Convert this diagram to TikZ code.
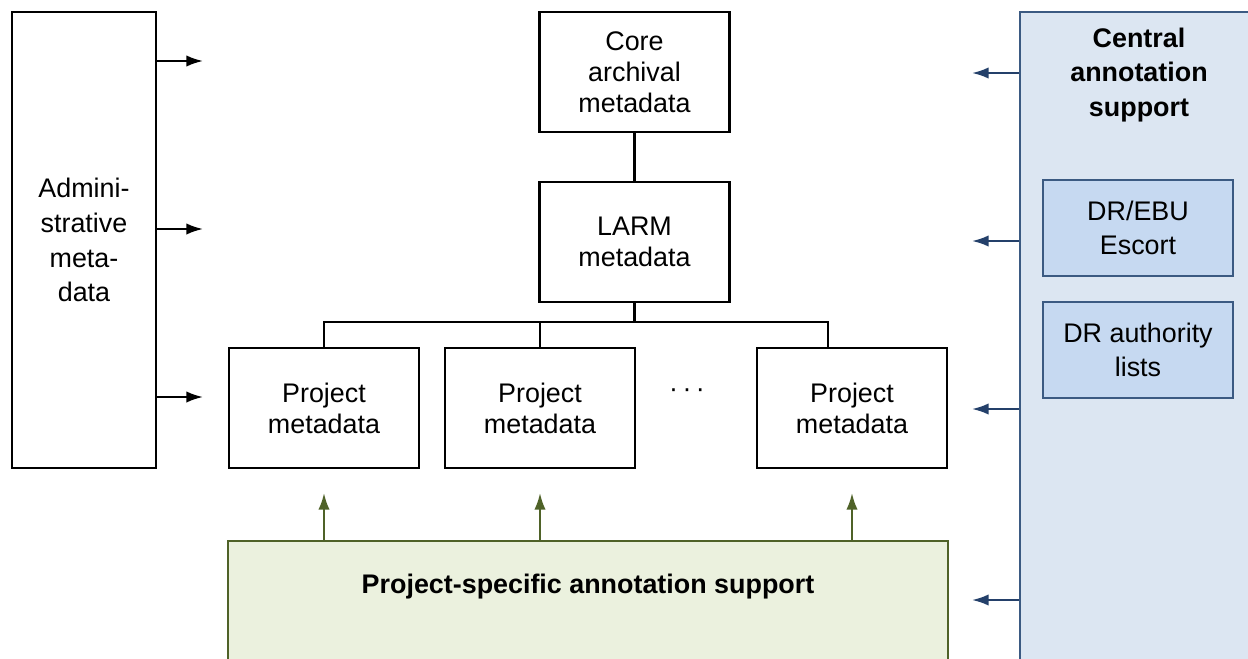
\documentclass[tikz,border=0pt]{standalone}
\usepackage{fontspec}
\setmainfont{Liberation Sans}
\usetikzlibrary{shapes,arrows,arrows.meta}
\usetikzlibrary{positioning}
\definecolor{centralfill}{HTML}{DCE6F2}
\definecolor{centraldraw}{HTML}{3B5A82}
\definecolor{escortfill}{HTML}{C6D9F1}
\definecolor{projfill}{HTML}{EBF1DE}
\definecolor{projdraw}{HTML}{4F6228}
\definecolor{arrowblue}{HTML}{24406A}
\tikzstyle{block} = [draw, rectangle, line width=1.2pt, align=center, minimum height=2.4cm, minimum width=3.8cm, font=\fontsize{15.3}{17.6}\selectfont]
\tikzstyle{support} = [draw=centraldraw, fill=escortfill, rectangle, line width=1.1pt, align=center, minimum height=1.92cm, minimum width=3.8cm, font=\fontsize{15.3}{19.5}\selectfont]
\tikzstyle{title} = [align=center, font=\fontsize{15.3}{19.8}\selectfont\bfseries]
\tikzstyle{io} = [coordinate]

\begin{document}
\begin{tikzpicture}[x=0.02cm, y=-0.02cm, >={Latex[length=9.5pt,width=6.5pt]}]
\useasboundingbox (0,0) rectangle (1248,659);
\clip (0,0) rectangle (1248,659);
% Background boxes
\node [draw=centraldraw, fill=centralfill, line width=1.2pt, minimum width=4.8cm, minimum height=13.76cm] (central) at (1140,356) {};
\node [draw=projdraw, fill=projfill, line width=1.2pt, minimum width=14.4cm, minimum height=3.18cm] (green) at (588,620.5) {};
\node [title] (centraltitle) at (1139,75) {Central\\annotation\\support};
\node [title] (greentitle) at (588,587) {Project-specific annotation support};

% Blocks
\node [block] (core) at (634.5,72) {Core\\archival\\metadata};
\node [block, below=0.96cm of core] (larm) {LARM\\metadata};
\node [block] (proj1) at (324,408) {Project\\metadata};
\node [block] (proj2) at (540,408) {Project\\metadata};
\node [block] (proj3) at (852,408) {Project\\metadata};
\node [font=\fontsize{15.3}{17.6}\selectfont] (dots) at (687,393) {·\,·\,·};
\node [block, minimum width=2.88cm, minimum height=9.12cm, font=\fontsize{15.3}{19.8}\selectfont] (admin) at (84,240) {Admini-\\strative\\meta-\\data};
\node [support] (escort) at (1138,228) {DR/EBU\\Escort};
\node [support, below=0.48cm of escort] (authority) {DR authority\\lists};

% Free ends
\node [io] (adm1) at (203,61) {};
\node [io] (adm2) at (203,229) {};
\node [io] (adm3) at (203,397) {};
\node [io] (cen1) at (972,73) {};
\node [io] (cen2) at (972,241) {};
\node [io] (cen3) at (972,409) {};
\node [io] (cen4) at (972,600) {};
\node [io] (bus) at (634.5,322) {};

% Hierarchy
\draw [line width=1.2pt] (core.south) -- (larm.north);
\draw [line width=1.2pt] (larm.south) -- (larm.south |- bus);
\draw [line width=1.2pt] (proj1.north) |- (bus) -| ([xshift=-0.48cm]proj3.north);
\draw [line width=1.2pt] (proj2.north) -- (proj2.north |- bus);

% Administrative metadata
\draw [->, line width=1.2pt] (admin.east |- adm1) -- (adm1);
\draw [->, line width=1.2pt] (admin.east |- adm2) -- (adm2);
\draw [->, line width=1.2pt] (admin.east |- adm3) -- (adm3);

% Central annotation support
\draw [->, line width=1.2pt, arrowblue] (central.west |- cen1) -- (cen1);
\draw [->, line width=1.2pt, arrowblue] (central.west |- cen2) -- (cen2);
\draw [->, line width=1.2pt, arrowblue] (central.west |- cen3) -- (cen3);
\draw [->, line width=1.2pt, arrowblue] (central.west |- cen4) -- (cen4);

% Project-specific annotation support
\draw [->, line width=1.2pt, projdraw] (green.north -| proj1) -- ([yshift=-0.48cm]proj1.south);
\draw [->, line width=1.2pt, projdraw] (green.north -| proj2) -- ([yshift=-0.48cm]proj2.south);
\draw [->, line width=1.2pt, projdraw] (green.north -| proj3) -- ([yshift=-0.48cm]proj3.south);
\end{tikzpicture}
\end{document}
